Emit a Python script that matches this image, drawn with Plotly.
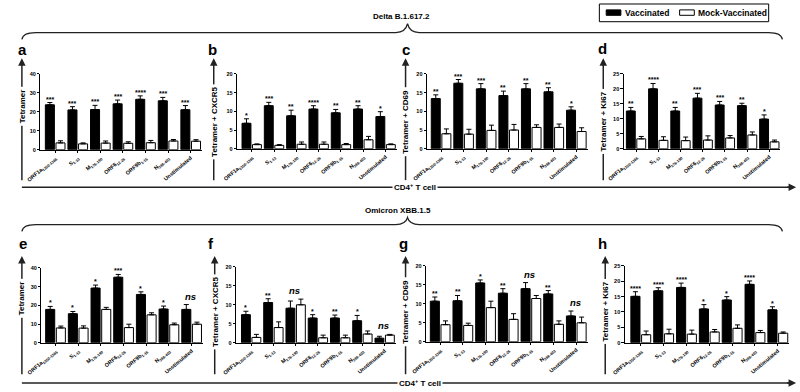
import numpy as np
import plotly.graph_objects as go

W, H = 800, 392

categories = ["ORF1a<sub>1350-1365</sub>", "S<sub>1-13</sub>", "M<sub>176-190</sub>",
              "ORF6<sub>12-26</sub>", "ORF9b<sub>1-15</sub>", "N<sub>388-403</sub>", "Unstimulated"]

# Delta B.1.617.2
a_vacc = [23.7, 21.0, 21.2, 24.2, 26.6, 25.8, 21.1]
a_vacc_err = [1.2, 1.7, 2.2, 2.0, 1.8, 1.8, 2.2]
a_mock = [3.6, 3.1, 3.5, 3.4, 3.7, 4.6, 4.5]
a_mock_err = [1.1, 0.5, 1.1, 0.8, 1.2, 0.8, 0.8]
a_sig = ["***", "***", "***", "***", "****", "***", "***"]

b_vacc = [6.8, 11.5, 8.8, 10.6, 9.6, 10.6, 8.6]
b_vacc_err = [1.2, 0.9, 1.5, 0.9, 0.9, 0.9, 1.3]
b_mock = [1.1, 0.9, 1.2, 1.2, 1.1, 2.4, 1.1]
b_mock_err = [0.2, 0.2, 0.6, 0.6, 0.3, 0.9, 0.2]
b_sig = ["*", "***", "**", "****", "**", "**", "*"]

c_vacc = [13.4, 17.5, 16.0, 14.2, 16.0, 15.2, 10.3]
c_vacc_err = [1.0, 1.0, 1.4, 1.2, 1.4, 1.1, 0.9]
c_mock = [4.0, 3.9, 4.9, 5.0, 5.7, 5.7, 4.6]
c_mock_err = [1.3, 1.3, 1.4, 1.5, 0.7, 0.9, 1.0]
c_sig = ["**", "***", "***", "**", "**", "**", "*"]

d_vacc = [12.6, 20.0, 12.6, 16.9, 14.6, 14.4, 9.9]
d_vacc_err = [1.2, 1.8, 1.2, 1.6, 1.2, 0.8, 1.4]
d_mock = [3.3, 2.8, 2.7, 2.9, 3.6, 4.6, 2.3]
d_mock_err = [0.8, 1.2, 1.2, 1.4, 0.8, 1.0, 0.6]
d_sig = ["**", "****", "**", "***", "***", "**", "*"]

# Omicron XBB.1.5
e_vacc = [17.8, 15.5, 29.2, 35.0, 25.8, 18.0, 17.8]
e_vacc_err = [1.6, 1.2, 1.6, 1.5, 1.4, 1.6, 2.6]
e_mock = [7.9, 7.8, 17.8, 8.1, 14.9, 9.6, 9.9]
e_mock_err = [1.0, 1.2, 1.1, 1.8, 1.1, 0.9, 1.1]
e_sig = ["*", "*", "*", "***", "*", "*", "ns"]

f_vacc = [7.4, 10.6, 9.1, 6.5, 6.5, 5.8, 1.2]
f_vacc_err = [0.9, 1.0, 1.9, 0.9, 0.8, 1.4, 0.5]
f_mock = [1.4, 4.0, 10.0, 1.3, 1.3, 2.3, 2.0]
f_mock_err = [0.8, 1.5, 1.5, 0.7, 0.7, 0.8, 0.2]
f_sig = ["*", "**", "ns", "*", "**", "*", "ns"]

g_vacc = [10.7, 10.8, 15.5, 12.8, 14.0, 12.6, 6.8]
g_vacc_err = [1.1, 1.4, 0.8, 1.2, 1.6, 0.9, 1.3]
g_mock = [4.5, 4.3, 9.0, 5.9, 11.4, 4.6, 5.0]
g_mock_err = [1.0, 0.6, 1.7, 1.5, 0.8, 0.9, 1.5]
g_sig = ["**", "**", "*", "**", "ns", "**", "ns"]

h_vacc = [15.1, 16.9, 18.0, 11.0, 13.9, 19.0, 10.7]
h_vacc_err = [1.5, 1.0, 1.4, 1.4, 1.1, 1.1, 1.0]
h_mock = [2.6, 2.9, 2.8, 3.5, 4.7, 3.3, 3.1]
h_mock_err = [1.2, 1.5, 1.3, 0.8, 1.1, 0.7, 0.4]
h_sig = ["****", "****", "****", "*", "*", "****", "*"]

y_titles = ["Tetramer", "Tetramer + CXCR5", "Tetramer + CD69", "Tetramer + Ki67"] * 2
panel_letters = ["a", "b", "c", "d", "e", "f", "g", "h"]
y_max = [40, 20, 20, 25, 40, 20, 20, 25]
y_dtick = [10, 5, 5, 5, 10, 5, 5, 5]
group_titles = ["Delta B.1.617.2", "Omicron XBB.1.5"]
legend_names = ["Vaccinated", "Mock-Vaccinated"]

panels = [
    (a_vacc, a_vacc_err, a_mock, a_mock_err, a_sig),
    (b_vacc, b_vacc_err, b_mock, b_mock_err, b_sig),
    (c_vacc, c_vacc_err, c_mock, c_mock_err, c_sig),
    (d_vacc, d_vacc_err, d_mock, d_mock_err, d_sig),
    (e_vacc, e_vacc_err, e_mock, e_mock_err, e_sig),
    (f_vacc, f_vacc_err, f_mock, f_mock_err, f_sig),
    (g_vacc, g_vacc_err, g_mock, g_mock_err, g_sig),
    (h_vacc, h_vacc_err, h_mock, h_mock_err, h_sig),
]

# layout geometry in pixels: x0, x1, ytop, ybottom, xrange low
geom = [
    (24, 189, 72, 149, -0.65),
    (225, 388, 72, 148, -0.65),
    (419, 583, 72, 148, -0.62),
    (620, 780, 72, 148, -0.55),
    (25, 190, 269, 345, -0.62),
    (224, 387, 268, 345, -0.67),
    (418, 583, 267, 344, -0.62),
    (621, 789, 267, 345, -0.70),
]

FONT = "Arial, Liberation Sans, sans-serif"
LINE = "#222"


def px(x):
    return x / W


def py(y):
    return 1 - y / H


def note(**kw):
    base = dict(xref="paper", yref="paper", xanchor="center", yanchor="middle", showarrow=False)
    base.update(kw)
    return base


def seg(xa, ya, xb, yb, w=1.5):
    return dict(type="line", xref="paper", yref="paper", x0=px(xa), y0=py(ya), x1=px(xb), y1=py(yb),
                line=dict(color=LINE, width=w))


fig = go.Figure()
layout = dict(
    width=W, height=H, margin=dict(l=0, r=0, t=0, b=0),
    paper_bgcolor="white", plot_bgcolor="white",
    barmode="group", bargap=0.06, bargroupgap=0.15, showlegend=False,
    font=dict(family=FONT, color="black"),
)
annotations = []
shapes = []
xs = np.arange(len(categories))

for i, (vac, vac_e, mock, mock_e, sig) in enumerate(panels):
    n = i + 1
    xa = "x" if n == 1 else f"x{n}"
    ya = "y" if n == 1 else f"y{n}"
    x0, x1, yt, yb, xlo = geom[i]
    fig.add_trace(go.Bar(
        x=xs, y=vac, xaxis=xa, yaxis=ya, name=legend_names[0],
        marker=dict(color="black", line=dict(color="black", width=1)),
        error_y=dict(type="data", symmetric=False, array=vac_e, arrayminus=[0] * 7,
                     color="black", thickness=1, width=2.5),
    ))
    fig.add_trace(go.Bar(
        x=xs, y=mock, xaxis=xa, yaxis=ya, name=legend_names[1],
        marker=dict(color="white", line=dict(color="black", width=1)),
        error_y=dict(type="data", symmetric=False, array=mock_e, arrayminus=[0] * 7,
                     color="black", thickness=1, width=2.5),
    ))
    xkey = "xaxis" if n == 1 else f"xaxis{n}"
    ykey = "yaxis" if n == 1 else f"yaxis{n}"
    layout[xkey] = dict(
        domain=[px(x0), px(x1)], anchor=ya, range=[xlo, 6.5],
        tickmode="array", tickvals=xs, ticktext=categories, tickangle=-40,
        tickfont=dict(size=5.5, family=FONT, weight="bold"),
        showline=True, linecolor="black", linewidth=1, ticks="outside", ticklen=2,
        tickcolor="black", showgrid=False, zeroline=False,
    )
    layout[ykey] = dict(
        domain=[py(yb), py(yt)], anchor=xa, range=[0, y_max[i]], dtick=y_dtick[i],
        tickfont=dict(size=5.5, family=FONT, weight="bold"),
        showline=True, linecolor="black", linewidth=1, ticks="outside", ticklen=2.5,
        tickcolor="black", showgrid=False, zeroline=False,
    )
    for j in range(7):
        top_v = vac[j] + vac_e[j]
        if sig[j] == "ns":
            top = max(top_v, mock[j] + mock_e[j])
            annotations.append(dict(
                xref=xa, yref=ya, x=j - 0.05, y=top, text="<i>ns</i>", showarrow=False,
                xanchor="center", yanchor="bottom", yshift=1,
                font=dict(size=9.5, family=FONT, weight="bold")))
        else:
            annotations.append(dict(
                xref=xa, yref=ya, x=j - 0.235, y=top_v, text=sig[j], showarrow=False,
                xanchor="center", yanchor="bottom", yshift=-2,
                font=dict(size=7, family=FONT, weight="bold")))

# vertical arrows with y titles
arrow_x = [5, 201, 397, 599, 5, 202, 397, 601]
for i in range(8):
    top = i < 4
    head, tail = (56, 180) if top else (257, 377)
    shapes.append(seg(arrow_x[i], tail, arrow_x[i], head + 4))
    annotations.append(note(
        x=px(arrow_x[i]), y=py(head), ax=0, ay=12, text=" ",
        showarrow=True, arrowhead=2, arrowsize=1, arrowwidth=1.5, arrowcolor=LINE))
title_y = [105, 121, 121, 120, 300, 314, 314, 313]
for i in range(8):
    annotations.append(note(
        x=px(arrow_x[i]), y=py(title_y[i]), text=y_titles[i],
        textangle=-90, bgcolor="white", borderpad=2,
        font=dict(size=8, family=FONT, weight="bold")))

# panel letters
letter_pos = [(6, 47), (200, 47), (397, 47), (598, 46), (6, 244), (198, 244), (395, 244), (598, 244)]
for i, (lx, ly) in enumerate(letter_pos):
    annotations.append(note(x=px(lx), y=py(ly), text=panel_letters[i],
                            font=dict(size=15, family=FONT, weight="bold")))

# horizontal CD4+ T cell arrows
for yy, tx in [(187, 407), (386, 412)]:
    shapes.append(seg(5, yy, 791, yy))
    annotations.append(note(
        x=px(796), y=py(yy), ax=-12, ay=0, text=" ",
        showarrow=True, arrowhead=2, arrowsize=1, arrowwidth=1.5, arrowcolor=LINE))
    annotations.append(note(
        x=px(tx), y=py(yy), text="CD4<sup>+</sup> T cell", bgcolor="white", borderpad=1,
        font=dict(size=8, family=FONT, weight="bold")))


# braces
def brace(yl, ypk, xl=5, xr=782, xc=399, drop=7):
    pts = [
        f"M {px(xl)},{py(yl + drop)}",
        f"Q {px(xl + 1)},{py(yl)} {px(xl + 14)},{py(yl)}",
        f"L {px(xc - 12)},{py(yl)}",
        f"Q {px(xc - 2)},{py(yl)} {px(xc)},{py(ypk)}",
        f"Q {px(xc + 2)},{py(yl)} {px(xc + 12)},{py(yl)}",
        f"L {px(xr - 14)},{py(yl)}",
        f"Q {px(xr - 1)},{py(yl)} {px(xr)},{py(yl + drop)}",
    ]
    return dict(type="path", xref="paper", yref="paper", path=" ".join(pts),
                line=dict(color=LINE, width=1.3))


shapes.append(brace(30, 21))
shapes.append(brace(225, 218))
annotations.append(note(x=px(393), y=py(14), text=group_titles[0],
                        font=dict(size=8, family=FONT, weight="bold")))
annotations.append(note(x=px(389), y=py(211), text=group_titles[1],
                        font=dict(size=8, family=FONT, weight="bold")))

# legend (drawn)
shapes.append(dict(type="rect", xref="paper", yref="paper", x0=px(595), x1=px(768), y0=py(19), y1=py(1),
                   line=dict(color="black", width=1), fillcolor="white"))
shapes.append(dict(type="rect", xref="paper", yref="paper", x0=px(602), x1=px(617), y0=py(12.5), y1=py(7),
                   line=dict(color="black", width=1), fillcolor="black"))
shapes.append(dict(type="rect", xref="paper", yref="paper", x0=px(677), x1=px(692), y0=py(12.5), y1=py(7),
                   line=dict(color="black", width=1), fillcolor="white"))
annotations.append(note(x=px(619), y=py(10), xanchor="left", text=legend_names[0],
                        font=dict(size=8.5, family=FONT, weight="bold")))
annotations.append(note(x=px(694), y=py(10), xanchor="left", text=legend_names[1],
                        font=dict(size=8.5, family=FONT, weight="bold")))

layout["annotations"] = annotations
layout["shapes"] = shapes
fig.update_layout(**layout)
fig.write_html("out.html",
               config={"displayModeBar": False},
               post_script="document.body.style.margin='0';document.body.style.padding='0';")
